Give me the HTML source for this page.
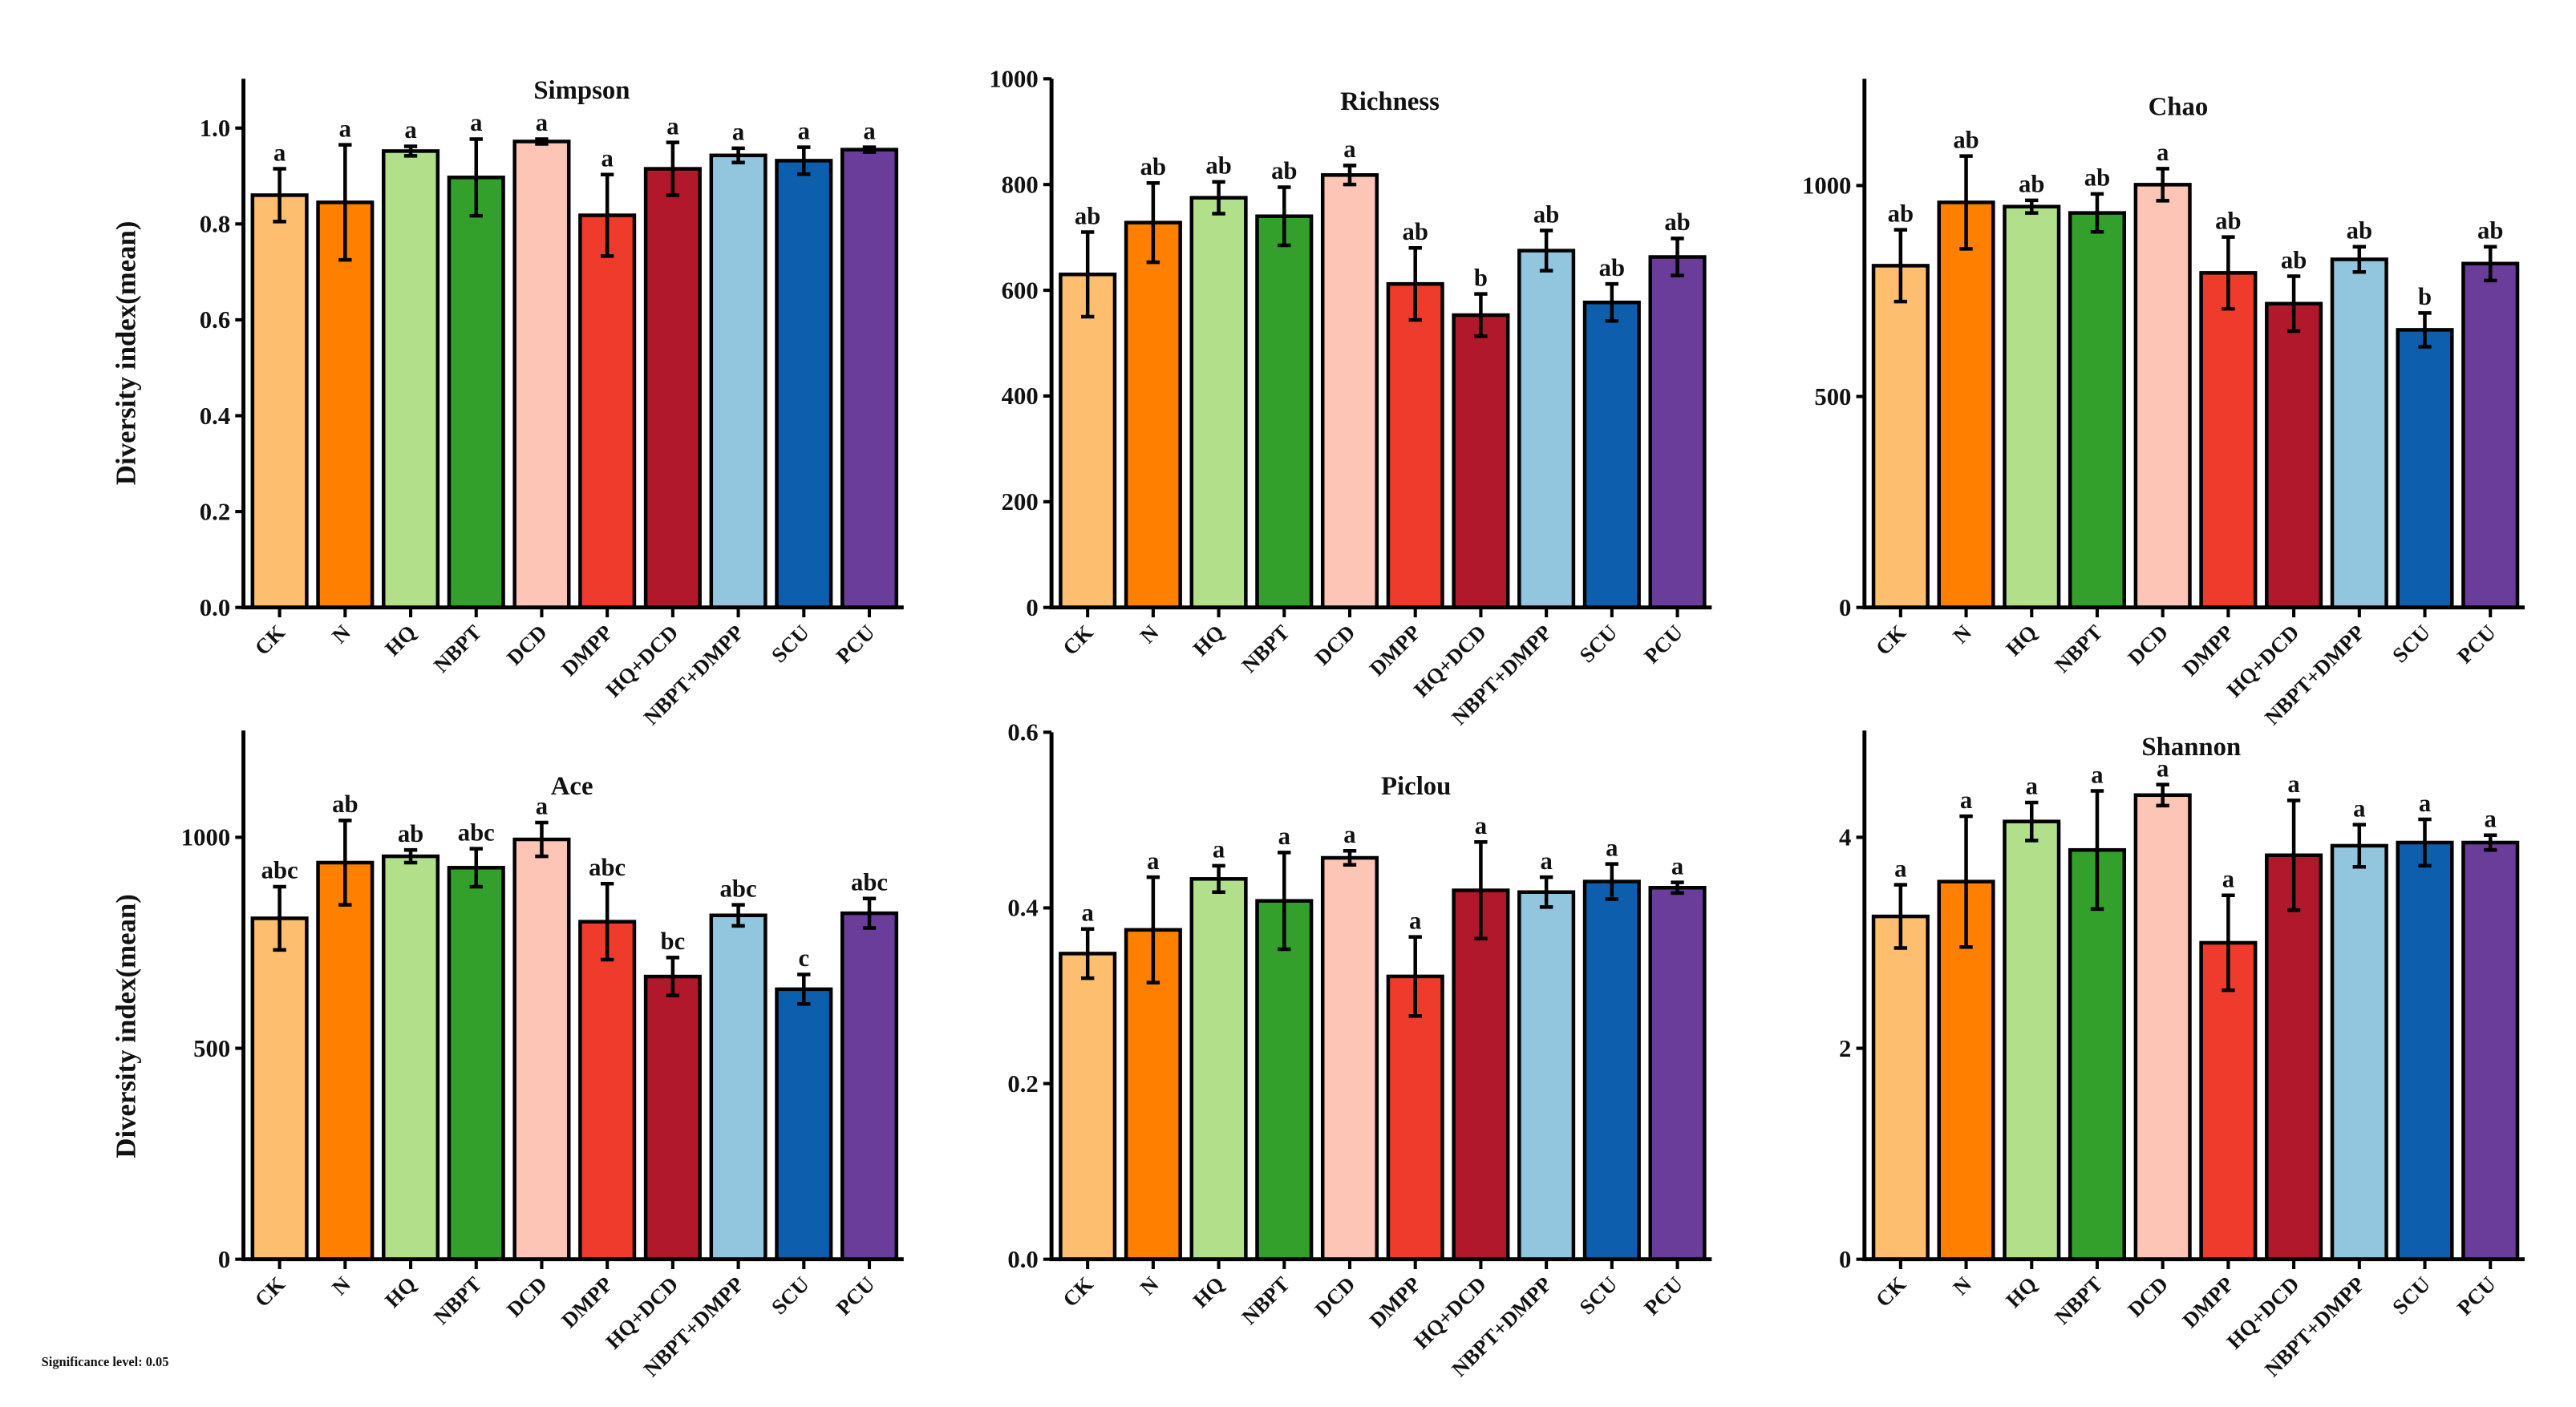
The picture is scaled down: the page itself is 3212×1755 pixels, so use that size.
<!DOCTYPE html>
<html><head><meta charset="utf-8"><style>
html,body{margin:0;padding:0;background:#fff;}
svg{display:block;}
text{font-family:"Liberation Serif",serif;font-weight:bold;fill:#111;}
</style></head><body>
<svg id="chart" width="3212" height="1755" viewBox="0 0 1568 857" xmlns="http://www.w3.org/2000/svg">
<text x="82" y="215" font-size="17" text-anchor="middle" transform="rotate(-90 82 215)">Diversity index(mean)</text>
<text x="82" y="625" font-size="17" text-anchor="middle" transform="rotate(-90 82 625)">Diversity index(mean)</text>
<text x="25" y="832" font-size="8" font-weight="normal" fill="#555">Significance level: 0.05</text>
</svg>
<script>
const categories=["CK","N","HQ","NBPT","DCD","DMPP","HQ+DCD","NBPT+DMPP","SCU","PCU"];
const colors=["#FDBF6F","#FF7F00","#B2DF8A","#33A02C","#FCC5B5","#EF3B2C","#B2182B","#92C5DE","#0D5FAE","#6A3D9A"];
const simpsonValues=[0.86,0.845,0.952,0.897,0.972,0.818,0.915,0.943,0.932,0.955];
const simpsonErrors=[0.055,0.12,0.01,0.08,0.005,0.085,0.055,0.015,0.028,0.005];
const simpsonLetters=["a","a","a","a","a","a","a","a","a","a"];
const richnessValues=[630,728,775,740,818,612,553,675,577,663];
const richnessErrors=[80,75,30,55,18,68,40,38,35,35];
const richnessLetters=["ab","ab","ab","ab","a","ab","b","ab","ab","ab"];
const chaoValues=[810,960,950,935,1002,793,720,825,658,815];
const chaoErrors=[85,110,15,45,38,85,65,30,40,40];
const chaoLetters=["ab","ab","ab","ab","a","ab","ab","ab","b","ab"];
const aceValues=[808,940,955,928,995,800,670,815,640,820];
const aceErrors=[75,100,15,45,40,90,45,25,35,35];
const aceLetters=["abc","ab","ab","abc","a","abc","bc","abc","c","abc"];
const pielouValues=[0.348,0.375,0.433,0.408,0.457,0.322,0.42,0.418,0.43,0.423];
const pielouErrors=[0.028,0.06,0.015,0.055,0.008,0.045,0.055,0.017,0.02,0.006];
const pielouLetters=["a","a","a","a","a","a","a","a","a","a"];
const shannonValues=[3.25,3.58,4.15,3.88,4.4,3.0,3.83,3.92,3.95,3.95];
const shannonErrors=[0.3,0.62,0.18,0.56,0.1,0.45,0.52,0.2,0.22,0.07];
const shannonLetters=["a","a","a","a","a","a","a","a","a","a"];
const simpsonTicks=[0,0.2,0.4,0.6,0.8,1.0];
const richnessTicks=[0,200,400,600,800,1000];
const chaoTicks=[0,500,1000];
const aceTicks=[0,500,1000];
const pielouTicks=[0,0.2,0.4,0.6];
const shannonTicks=[0,2,4];

const NS="http://www.w3.org/2000/svg";
const svg=document.getElementById('chart');
function mk(tag,attrs,parent){const e=document.createElementNS(NS,tag);for(const k in attrs)e.setAttribute(k,attrs[k]);(parent||svg).appendChild(e);return e;}

const panels=[
 {name:"simpson",title:"Simpson",tx:354,ty:60,ax:148,base:370,top:48,refV:1.0,refY:78,ticks:simpsonTicks,dec:1,v:simpsonValues,e:simpsonErrors,l:simpsonLetters},
 {name:"richness",title:"Richness",tx:846,ty:67,ax:640,base:370,top:48,refV:1000,refY:48,ticks:richnessTicks,dec:0,v:richnessValues,e:richnessErrors,l:richnessLetters},
 {name:"chao",title:"Chao",tx:1326,ty:70,ax:1135,base:370,top:48,refV:1000,refY:113,ticks:chaoTicks,dec:0,v:chaoValues,e:chaoErrors,l:chaoLetters},
 {name:"ace",title:"Ace",tx:348,ty:484,ax:148,base:767,top:445,refV:1000,refY:510,ticks:aceTicks,dec:0,v:aceValues,e:aceErrors,l:aceLetters},
 {name:"pielou",title:"Piclou",tx:862,ty:484,ax:640,base:767,top:446,refV:0.6,refY:446,ticks:pielouTicks,dec:1,v:pielouValues,e:pielouErrors,l:pielouLetters},
 {name:"shannon",title:"Shannon",tx:1334,ty:460,ax:1135,base:767,top:445,refV:4,refY:510,ticks:shannonTicks,dec:0,v:shannonValues,e:shannonErrors,l:shannonLetters}
];
panels.forEach(p=>{
 const g=mk('g',{});
 
 
 const y=v=>p.base-(p.base-p.refY)*v/p.refV;
 const x=i=>p.ax+22+i*39.9;
 const bw=33;
 p.v.forEach((v,i)=>{
  const r=mk('rect',{x:x(i)-bw/2,y:y(v),width:bw,height:p.base-y(v),fill:colors[i],stroke:'#000','stroke-width':2.2},g);
  
  
  const yt=y(v+p.e[i]),yb=y(v-p.e[i]);
  const eb=mk('path',{d:`M${x(i)} ${yt}V${yb}M${x(i)-4} ${yt}H${x(i)+4}M${x(i)-4} ${yb}H${x(i)+4}`,stroke:'#000','stroke-width':2.2,fill:'none'},g);
  
  
  const lt=mk('text',{x:x(i),y:yt-5,'font-size':15,'text-anchor':'middle'},g);
  lt.textContent=p.l[i];
  
  
  const tk=mk('line',{x1:x(i),x2:x(i),y1:p.base,y2:p.base+6,stroke:'#000','stroke-width':2},g);
  
  
  const cl=mk('text',{x:x(i)+4,y:p.base+16,'font-size':13,'text-anchor':'end',transform:`rotate(-45 ${x(i)+4} ${p.base+16})`},g);
  cl.textContent=categories[i];
  
  
 });
 const axes=mk('path',{d:`M${p.ax} ${p.top}V${p.base}H${p.ax+402}`,stroke:'#000','stroke-width':2.4,fill:'none'},g);
 
 
 p.ticks.forEach(t=>{
  const ln=mk('line',{x1:p.ax-5,x2:p.ax,y1:y(t),y2:y(t),stroke:'#000','stroke-width':2},g);
  
  
  const tt=mk('text',{x:p.ax-8,y:y(t)+5,'font-size':15,'text-anchor':'end'},g);
  tt.textContent=t.toFixed(p.dec);
  
  
 });
 const ti=mk('text',{x:p.tx,y:p.ty,'font-size':16,'text-anchor':'middle'},g);
 ti.textContent=p.title;
 
 
});
</script>
</body></html>
